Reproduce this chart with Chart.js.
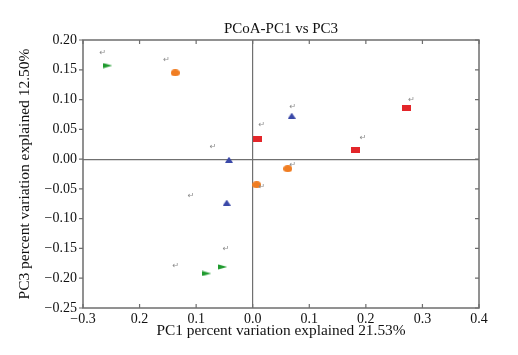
<!DOCTYPE html>
<html><head><meta charset="utf-8">
<script src="https://cdn.jsdelivr.net/npm/chart.js@4/dist/chart.umd.min.js"></script>
<style>html,body{margin:0;padding:0;background:#fff}#wrap{width:518px;height:355px}</style>
</head><body><div id="wrap"><canvas id="c" width="518" height="355"></canvas></div>
<script>
const groupNames = ["G1", "G2", "G3", "G4"];
const greenPts = [{x:-0.256,y:0.157},{x:-0.053,y:-0.181},{x:-0.081,y:-0.192}];
const orangePts = [{x:-0.137,y:0.145},{x:0.062,y:-0.016},{x:0.007,y:-0.043}];
const bluePts = [{x:-0.042,y:-0.001},{x:0.069,y:0.073},{x:-0.046,y:-0.073}];
const redPts = [{x:0.009,y:0.033},{x:0.271,y:0.085},{x:0.182,y:0.016}];
const markNotes = [{x:-0.265,y:0.178},{x:-0.152,y:0.166},{x:-0.070,y:0.020},{x:0.016,y:0.058},
  {x:0.071,y:0.087},{x:0.281,y:0.100},{x:0.195,y:0.035},{x:0.071,y:-0.010},
  {x:0.016,y:-0.046},{x:-0.109,y:-0.062},{x:-0.047,y:-0.151},{x:-0.136,y:-0.179}];
const xTickLabels = ["\u22120.3","0.2","0.1","0.0","0.1","0.2","0.3","0.4"];
const yTickLabels = ["\u22120.25","\u22120.20","\u22120.15","\u22120.10","\u22120.05","0.00","0.05","0.10","0.15","0.20"];
const titleText = "PCoA-PC1 vs PC3";
const xTitle = "PC1 percent variation explained 21.53%";
const yTitle = "PC3 percent variation explained 12.50%";

function mk(w,h,draw){const c=document.createElement('canvas');c.width=w;c.height=h;const g=c.getContext('2d');draw(g,w,h);return c;}
const imgGreen = mk(9,6,(g,w,h)=>{g.fillStyle='#1f9a2e';g.beginPath();g.moveTo(0,0.5);g.lineTo(w,h/2);g.lineTo(0,h-0.5);g.closePath();g.fill();});
const imgOrange = mk(9,7,(g,w,h)=>{g.fillStyle='#f07d22';g.beginPath();g.ellipse(w/2,h/2,w/2,h/2,0,0,Math.PI*2);g.fill();});
const imgBlue = mk(8,6,(g,w,h)=>{g.fillStyle='#3a48a8';g.beginPath();g.moveTo(w/2,0);g.lineTo(w,h);g.lineTo(0,h);g.closePath();g.fill();});
const imgRed = mk(9,6,(g,w,h)=>{g.fillStyle='#e3262a';g.fillRect(0,0,w,h);});

const frameColor = '#6e6e6e';
const framePlugin = {
  id:'frame',
  afterDatasetsDraw(chart){
    const {ctx, chartArea:a, scales:{x,y}} = chart;
    ctx.save();
    ctx.strokeStyle = frameColor; ctx.lineWidth = 1.5;
    ctx.strokeRect(a.left, a.top, a.right-a.left, a.bottom-a.top);
    ctx.lineWidth = 1.2;
    ctx.beginPath();
    x.ticks.forEach(t=>{const px=x.getPixelForValue(t.value);
      ctx.moveTo(px,a.bottom);ctx.lineTo(px,a.bottom-4);
      ctx.moveTo(px,a.top);ctx.lineTo(px,a.top+4);});
    y.ticks.forEach(t=>{const py=y.getPixelForValue(t.value);
      ctx.moveTo(a.left,py);ctx.lineTo(a.left-4,py);
      ctx.moveTo(a.right,py);ctx.lineTo(a.right-4,py);});
    ctx.stroke();
    ctx.fillStyle='#8a8a8a'; ctx.font='8px "DejaVu Sans"'; ctx.textAlign='center'; ctx.textBaseline='middle';
    markNotes.forEach(p=>ctx.fillText('\u21b5', x.getPixelForValue(p.x), y.getPixelForValue(p.y)));
    ctx.restore();
  }
};

const zeroColor = (c)=> (Math.abs(c.tick.value) < 1e-9 ? '#707070' : 'rgba(0,0,0,0)');
const serif = '"Liberation Serif", "DejaVu Serif", serif';

new Chart(document.getElementById('c'), {
  type:'scatter',
  data:{datasets:[
    {label:groupNames[0], data:greenPts, pointStyle:imgGreen},
    {label:groupNames[1], data:orangePts, pointStyle:imgOrange},
    {label:groupNames[2], data:bluePts, pointStyle:imgBlue},
    {label:groupNames[3], data:redPts, pointStyle:imgRed}
  ]},
  options:{
    responsive:false, animation:false, devicePixelRatio:1,
    layout:{padding:{left:0,right:39,top:0,bottom:0}},
    plugins:{
      legend:{display:false}, tooltip:{enabled:false},
      title:{display:true, text:titleText, fullSize:false, color:'#111',
        font:{family:serif, size:15, weight:'normal'}, padding:{top:20,bottom:2}}
    },
    scales:{
      x:{type:'linear', min:-0.3, max:0.4,
        afterFit(s){s.height=47;},
        ticks:{stepSize:0.1, color:'#111', padding:3, maxRotation:0, autoSkip:false,
          font:{family:serif,size:14}, callback:(v,i)=>xTickLabels[i]},
        grid:{drawTicks:false, color:zeroColor, lineWidth:1.2},
        border:{display:false},
        title:{display:true, text:xTitle, color:'#111', font:{family:serif,size:15.4}, padding:{top:0,bottom:15}}
      },
      y:{type:'linear', min:-0.25, max:0.2,
        afterFit(s){s.width=83;},
        ticks:{stepSize:0.05, color:'#111', padding:6, autoSkip:false,
          font:{family:serif,size:14}, callback:(v,i)=>yTickLabels[i]},
        grid:{drawTicks:false, color:zeroColor, lineWidth:1.2},
        border:{display:false},
        title:{display:true, text:yTitle, color:'#111', font:{family:serif,size:15.5}, padding:{top:16,bottom:0}}
      }
    }
  },
  plugins:[framePlugin]
});
</script></body></html>
